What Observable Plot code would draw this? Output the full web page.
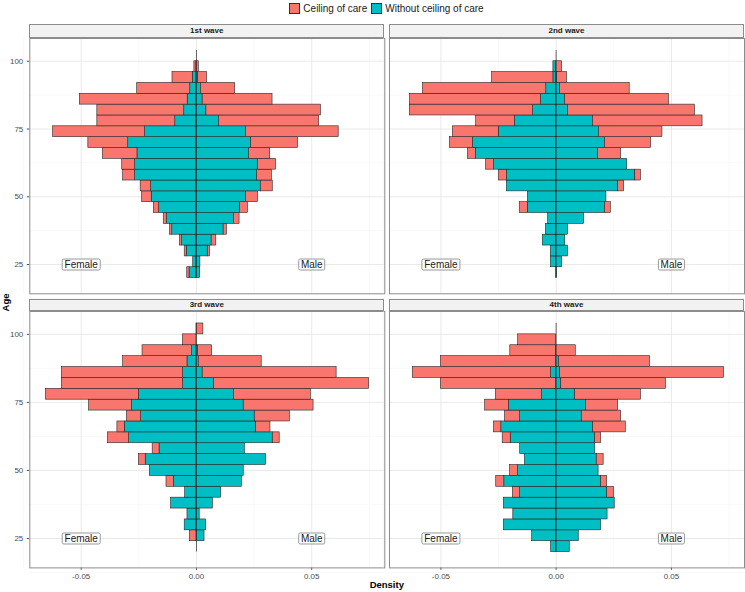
<!DOCTYPE html>
<html><head><meta charset="utf-8">
<script src="https://cdn.jsdelivr.net/npm/d3@7"></script>
<script src="https://cdn.jsdelivr.net/npm/@observablehq/plot@0.6"></script>
<style>
body{margin:0;background:#fff;font-family:"Liberation Sans",Arial,sans-serif;}
#root{position:relative;width:745px;height:592px;overflow:hidden;background:#fff;}
.strip{position:absolute;box-sizing:border-box;background:#f2f2f2;border:1px solid #8c8c8c;font-weight:bold;font-size:8px;line-height:11px;text-align:center;color:#1a1a1a;}
.pnl{position:absolute;}
.pnl svg{display:block;overflow:visible;}
#legend{position:absolute;top:3px;left:29px;width:715px;display:flex;justify-content:center;align-items:center;font-size:10px;color:#1a1a1a;}
#legend .key{width:11px;height:11px;box-sizing:border-box;border:1px solid #333;margin-right:3px;}
#legend .item{display:flex;align-items:center;margin:0 2px;}
.axt{position:absolute;font-weight:bold;font-size:9.5px;color:#000;}
</style></head><body><div id="root"><div id="legend"></div></div>
<script>
// ---- data ----
const waves = ["1st wave", "2nd wave", "3rd wave", "4th wave"];
const groups = ["Ceiling of care", "Without ceiling of care"];
const colors = ["#F8766D", "#00BFC4"];
const sexLabels = ["Female", "Male"];
const binStart = [20,24,28,32,36,40,44,48,52,56,60,64,68,72,76,80,84,88,92,96,100];
const binWidth = 4;
const xTicks = [-0.05, 0, 0.05];
const yTicks = [25, 50, 75, 100];

// density per age bin (bins 20..100), female/male, without ceiling (teal) and ceiling (red)
const w1FemaleWithout = [0.003,0.0014,0.0042,0.0062,0.0105,0.0129,0.0162,0.0194,0.0197,0.0266,0.0266,0.0256,0.0296,0.0223,0.0092,0.0053,0.0038,0.0027,0.0016,0,0];
const w1FemaleCeiling = [0.001,0,0.0009,0.001,0.001,0.0013,0.0023,0.0042,0.0045,0.0052,0.0056,0.015,0.0173,0.0399,0.0338,0.0377,0.0468,0.023,0.0088,0.0009,0];
const w1MaleWithout   = [0.0016,0.0017,0.0049,0.0066,0.0118,0.0162,0.0188,0.0215,0.0279,0.0263,0.0266,0.0228,0.0237,0.0215,0.0097,0.0043,0.0027,0.0019,0.0007,0,0];
const w1MaleCeiling   = [0,0,0.001,0.002,0.0014,0.0025,0.0035,0.0052,0.0052,0.0064,0.0079,0.0092,0.0204,0.0402,0.0435,0.0497,0.0303,0.0149,0.0039,0.001,0];

const w2FemaleWithout = [0,0.0023,0.0023,0.0058,0.0045,0.0035,0.0123,0.0123,0.0214,0.0214,0.0269,0.0348,0.0361,0.0249,0.0179,0.01,0.0066,0.0043,0.0012,0.0012,0];
const w2FemaleCeiling = [0,0,0,0,0,0,0.0035,0,0,0.0035,0.0035,0.0035,0.01,0.0199,0.0168,0.0535,0.0568,0.0535,0.0266,0,0];
const w2MaleWithout   = [0.0004,0.0026,0.0051,0.0039,0.0051,0.0121,0.0211,0.0218,0.0269,0.0343,0.0308,0.0181,0.0211,0.0185,0.0159,0.0051,0.0038,0.0017,0.0004,0,0];
const w2MaleCeiling   = [0,0,0,0,0,0,0.0026,0,0.0026,0.0025,0,0.0101,0.0201,0.0276,0.0476,0.0551,0.0451,0.0302,0.0043,0.0026,0];

const w3FemaleWithout = [0,0,0.0051,0.0039,0.011,0.0049,0.0098,0.0202,0.022,0.016,0.0292,0.0311,0.024,0.028,0.025,0.0058,0.0058,0.0039,0.0019,0,0];
const w3FemaleCeiling = [0,0.0029,0,0,0,0,0.0032,0,0.003,0.003,0.0092,0.0032,0.0062,0.0186,0.0403,0.0526,0.0526,0.0279,0.0215,0.0059,0];
const w3MaleWithout   = [0,0.0035,0.0042,0.0014,0.0071,0.0107,0.0197,0.0205,0.0302,0.021,0.0331,0.0259,0.0253,0.0205,0.0162,0.0077,0.0027,0.001,0.0007,0,0];
const w3MaleCeiling   = [0,0,0,0,0,0,0,0,0,0,0.003,0.0062,0.0152,0.0303,0.0334,0.0672,0.0581,0.0273,0.0061,0,0.003];

const w4FemaleWithout = [0.0022,0.0104,0.0227,0.0186,0.0227,0.0156,0.0225,0.0165,0.0136,0.0156,0.0197,0.0238,0.0156,0.0205,0.0061,0,0.0022,0,0,0,0];
const w4FemaleCeiling = [0,0,0,0,0,0.0032,0.0035,0.0035,0,0,0.0035,0.0032,0.0066,0.0103,0.0201,0.05,0.06,0.05,0.0199,0.0165,0];
const w4MaleWithout   = [0.0059,0.0098,0.0195,0.0223,0.0254,0.0221,0.0195,0.0184,0.0176,0.0169,0.0169,0.016,0.0111,0.0129,0.0082,0.0022,0.0017,0.0012,0,0,0];
const w4MaleCeiling   = [0,0,0,0,0,0.003,0.0026,0,0.003,0,0.0026,0.0142,0.0171,0.014,0.0286,0.0454,0.0711,0.0395,0.0085,0,0];

const waveSeries = [
  [w1FemaleWithout, w1FemaleCeiling, w1MaleWithout, w1MaleCeiling],
  [w2FemaleWithout, w2FemaleCeiling, w2MaleWithout, w2MaleCeiling],
  [w3FemaleWithout, w3FemaleCeiling, w3MaleWithout, w3MaleCeiling],
  [w4FemaleWithout, w4FemaleCeiling, w4MaleWithout, w4MaleCeiling]
];
const labelX = [-0.05, 0.05];
const labelY = 25;

// ---- build table ----
const rows = [];
waveSeries.forEach((s, wi) => {
  const [fW, fC, mW, mC] = s;
  binStart.forEach((age, i) => {
    rows.push({wave: waves[wi], age, group: groups[1], value: -fW[i]});
    rows.push({wave: waves[wi], age, group: groups[1], value: mW[i]});
    rows.push({wave: waves[wi], age, group: groups[0], value: -fC[i]});
    rows.push({wave: waves[wi], age, group: groups[0], value: mC[i]});
  });
});
const labels = sexLabels.map((t, i) => ({x: labelX[i], y: labelY, text: t}));

// ---- layout ----
const root = document.getElementById("root");
const xDomain = [-0.0723, 0.0817];
const yDomain = [14.2, 108.4];
const font = "'Liberation Sans', Arial, sans-serif";

function roundRect(w, h, r) {
  return {draw(ctx) {
    const x0 = -w/2, y0 = -h/2, x1 = w/2, y1 = h/2;
    ctx.moveTo(x0 + r, y0); ctx.lineTo(x1 - r, y0); ctx.arcTo(x1, y0, x1, y0 + r, r);
    ctx.lineTo(x1, y1 - r); ctx.arcTo(x1, y1, x1 - r, y1, r);
    ctx.lineTo(x0 + r, y1); ctx.arcTo(x0, y1, x0, y1 - r, r);
    ctx.lineTo(x0, y0 + r); ctx.arcTo(x0, y0, x0 + r, y0, r); ctx.closePath();
  }};
}
const boxW = {Female: 38, Male: 26};

const geo = [
  {col: 0, row: 0}, {col: 1, row: 0}, {col: 0, row: 1}, {col: 1, row: 1}
];
const colX = [29.3, 389];
const panelW = 355;
const rowY = [38, 311.3];
const panelH = [255.3, 256.4];
const stripTop = [24.3, 298.7];

geo.forEach((g, wi) => {
  const showY = g.col === 0, showX = g.row === 1;
  const mL = showY ? 29.3 : 0;
  const mB = showX ? 20 : 0;
  const data = rows.filter(d => d.wave === waves[wi] && d.value !== 0);
  const chart = Plot.plot({
    width: mL + panelW, height: panelH[g.row] + mB,
    marginLeft: mL, marginRight: 0, marginTop: 0, marginBottom: mB,
    style: {fontFamily: font, fontSize: "8px", color: "#4d4d4d", background: "transparent", overflow: "visible"},
    x: {domain: xDomain, ticks: xTicks, tickFormat: d => d.toFixed(2), tickSize: 2.5, tickPadding: 2.5, label: null, axis: showX ? "bottom" : null},
    y: {domain: yDomain, ticks: yTicks, tickSize: 2.5, tickPadding: 4, label: null, axis: showY ? "left" : null},
    color: {domain: groups, range: colors},
    marks: [
      Plot.ruleX([-0.075, -0.025, 0.025, 0.075], {stroke: "#f3f3f3", strokeWidth: 0.6}),
      Plot.ruleY([12.5, 37.5, 62.5, 87.5], {stroke: "#f3f3f3", strokeWidth: 0.6}),
      Plot.ruleX(xTicks, {stroke: "#e6e6e6", strokeWidth: 0.9}),
      Plot.ruleY(yTicks, {stroke: "#e6e6e6", strokeWidth: 0.9}),
      Plot.rectX(data, {x: "value", y1: "age", y2: d => d.age + binWidth, fill: "group", z: "group",
        order: [groups[1], groups[0]], stroke: "#262626", strokeWidth: 0.6}),
      Plot.ruleX([0], {y1: binStart[0], y2: binStart[binStart.length - 1] + binWidth, stroke: "#262626", strokeWidth: 0.7}),
      Plot.dot(labels.filter(d => d.text === "Female"), {x: "x", y: "y", symbol: roundRect(boxW.Female, 11, 1.5), fill: "white", stroke: "#7f7f7f", strokeWidth: 0.8}),
      Plot.dot(labels.filter(d => d.text === "Male"), {x: "x", y: "y", symbol: roundRect(boxW.Male, 11, 1.5), fill: "white", stroke: "#7f7f7f", strokeWidth: 0.8}),
      Plot.text(labels, {x: "x", y: "y", text: "text", fill: "#1a1a1a", fontSize: 10}),
      Plot.frame({stroke: "#8c8c8c", strokeWidth: 1})
    ]
  });
  const div = document.createElement("div");
  div.className = "pnl";
  div.style.left = (colX[g.col] - mL) + "px";
  div.style.top = rowY[g.row] + "px";
  div.appendChild(chart);
  root.appendChild(div);

  const strip = document.createElement("div");
  strip.className = "strip";
  strip.style.left = colX[g.col] + "px";
  strip.style.top = stripTop[g.row] + "px";
  strip.style.width = panelW + "px";
  strip.style.height = (rowY[g.row] - stripTop[g.row]) + "px";
  strip.style.lineHeight = (rowY[g.row] - stripTop[g.row] - 2) + "px";
  strip.textContent = waves[wi];
  root.appendChild(strip);
});

// legend
const legend = document.getElementById("legend");
groups.forEach((gname, i) => {
  const item = document.createElement("div");
  item.className = "item";
  const key = document.createElement("div");
  key.className = "key";
  key.style.background = colors[i];
  const lab = document.createElement("span");
  lab.textContent = gname;
  item.appendChild(key); item.appendChild(lab);
  legend.appendChild(item);
});

// axis titles
const xt = document.createElement("div");
xt.className = "axt"; xt.textContent = "Density";
xt.style.left = "29.3px"; xt.style.width = "715px"; xt.style.textAlign = "center"; xt.style.top = "579px";
root.appendChild(xt);
const yt = document.createElement("div");
yt.className = "axt"; yt.textContent = "Age";
yt.style.left = "-10px"; yt.style.top = "297px"; yt.style.width = "30px"; yt.style.textAlign = "center";
yt.style.transform = "rotate(-90deg)";
root.appendChild(yt);
</script></body></html>
